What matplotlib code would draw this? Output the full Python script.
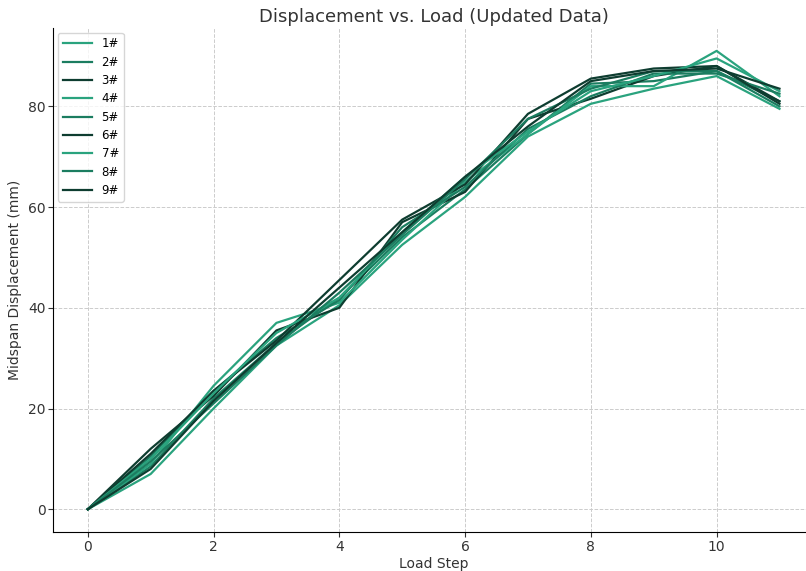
import matplotlib.pyplot as plt

# Load steps and midspan displacement (mm) for each specimen
load_steps = [0, 1, 2, 3, 4, 5, 6, 7, 8, 9, 10, 11]
labels = ['1#', '2#', '3#', '4#', '5#', '6#', '7#', '8#', '9#']

d1 = [0, 7.0, 20.0, 32.5, 40.5, 52.5, 62.0, 74.0, 80.5, 83.5, 86.0, 79.5]
d2 = [0, 8.5, 22.0, 33.0, 42.0, 54.0, 63.5, 74.5, 84.5, 85.0, 87.0, 81.0]
d3 = [0, 12.0, 22.5, 35.5, 40.0, 57.0, 63.0, 77.5, 81.5, 86.0, 88.0, 81.0]
d4 = [0, 9.0, 24.5, 37.0, 41.0, 53.5, 65.0, 74.5, 84.0, 84.0, 91.0, 82.0]
d5 = [0, 10.5, 23.5, 34.0, 41.5, 56.0, 64.0, 75.5, 82.0, 86.5, 86.5, 82.5]
d6 = [0, 11.0, 23.5, 33.5, 45.5, 57.5, 64.5, 78.5, 85.5, 87.5, 88.0, 80.5]
d7 = [0, 10.0, 23.0, 35.0, 42.0, 55.0, 66.0, 75.0, 83.0, 86.0, 89.5, 83.0]
d8 = [0, 9.5, 21.0, 32.5, 43.0, 54.5, 65.5, 77.5, 83.5, 87.0, 87.0, 80.0]
d9 = [0, 8.0, 21.5, 33.0, 44.0, 55.0, 66.0, 76.0, 85.0, 87.0, 87.5, 83.5]
series = [d1, d2, d3, d4, d5, d6, d7, d8, d9]

colors = ['#2aa37e', '#1b7d60', '#0e3d30']

fig = plt.figure(figsize=(8.06, 5.71), dpi=100)
ax = fig.add_axes([0.066, 0.068, 0.944, 0.883])

for i, (vals, lab) in enumerate(zip(series, labels)):
    ax.plot(load_steps, vals, color=colors[i % 3], linewidth=1.6, label=lab)

ax.set_title('Displacement vs. Load (Updated Data)', fontsize=13, color='#333333', pad=4)
ax.set_xlabel('Load Step', fontsize=10, color='#333333', labelpad=2)
ax.set_ylabel('Midspan Displacement (mm)', fontsize=10, color='#333333', labelpad=4)
ax.tick_params(labelsize=10, colors='#333333', pad=2)
ax.grid(True, linestyle='--', color='#cccccc', linewidth=0.7)
ax.spines['top'].set_visible(False)
ax.spines['right'].set_visible(False)
ax.legend(loc='upper left', fontsize=8.5, frameon=True, handlelength=2.5,
          labelspacing=0.45, borderaxespad=0.4)

plt.savefig('out.png')
